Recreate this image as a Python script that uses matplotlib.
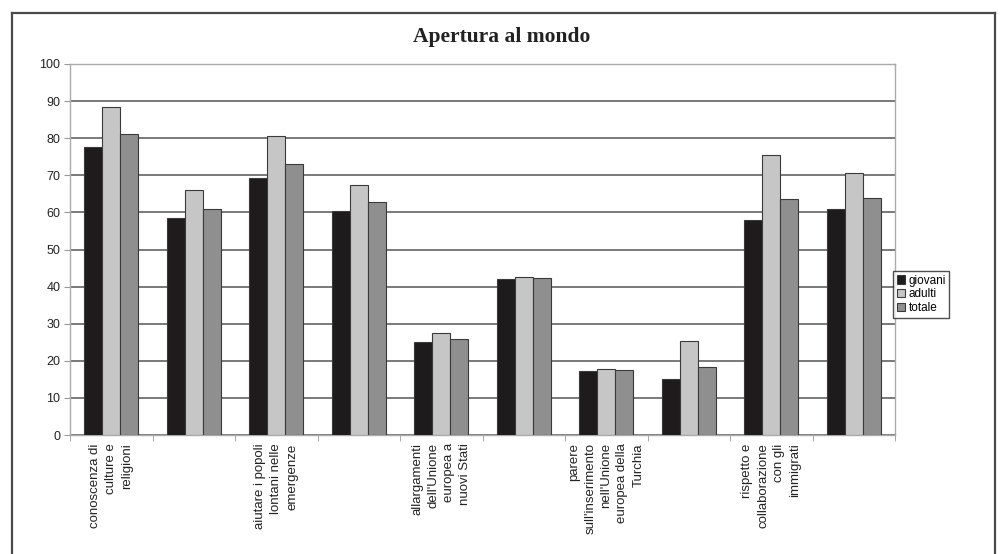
import matplotlib
matplotlib.use("Agg")
import matplotlib.pyplot as plt
import numpy as np
from matplotlib.lines import Line2D

title = "Apertura al mondo"
categories = [
    "conoscenza di\nculture e\nreligioni",
    "",
    "aiutare i popoli\nlontani nelle\nemergenze",
    "",
    "allargamenti\ndell'Unione\neuropea a\nnuovi Stati",
    "",
    "parere\nsull'inserimento\nnell'Unione\neuropea della\nTurchia",
    "",
    "rispetto e\ncollaborazione\ncon gli\nimmigrati",
    "",
]
series_names = ["giovani", "adulti", "totale"]
giovani = [77.6, 58.5, 69.2, 60.5, 25.0, 42.0, 17.2, 15.0, 58.0, 61.0]
adulti = [88.4, 66.0, 80.5, 67.5, 27.5, 42.5, 17.7, 25.3, 75.5, 70.5]
totale = [81.1, 61.0, 73.0, 62.8, 25.8, 42.2, 17.5, 18.2, 63.5, 64.0]
yticks = list(range(0, 101, 10))

colors = ["#1e1b1c", "#c6c6c6", "#8f8f8f"]

W, H = 1003, 554
fig = plt.figure(figsize=(W / 100, H / 100), dpi=100)
fig.patch.set_facecolor("white")

# outer frame (left, top, right)
fx0, fy0, fx1 = 12 / W, 1 - 13 / H, 995 / W
for xs, ys in [([fx0, fx0], [0, fy0]), ([fx0, fx1], [fy0, fy0]), ([fx1, fx1], [fy0, 0])]:
    fig.add_artist(Line2D(xs, ys, transform=fig.transFigure, color="#4a4a4a", lw=1.6))

left, right, bottom, top = 70 / W, 895 / W, 1 - 435 / H, 1 - 64 / H
ax = fig.add_axes([left, bottom, right - left, top - bottom])

x = np.arange(len(categories))
bw = 0.22
for i, (vals, name) in enumerate(zip([giovani, adulti, totale], series_names)):
    ax.bar(x + (i - 1) * bw, vals, width=bw, color=colors[i], edgecolor="#3a3a3a",
           linewidth=0.8, label=name, zorder=3)

ax.set_xlim(-0.5, len(categories) - 0.5)
ax.set_ylim(0, 100)
ax.set_yticks(yticks)
ax.set_yticklabels([str(v) for v in yticks], fontsize=9, family="Liberation Sans", color="#222222")
ax.yaxis.grid(True, color="#6e6e6e", lw=1.3, zorder=0)
ax.set_axisbelow(True)

ax.set_xticks(x)
ax.set_xticklabels(categories, rotation=90, fontsize=9.5, family="Liberation Sans",
                   va="top", ha="center", multialignment="right", color="#222222",
                   linespacing=1.45)
ax.tick_params(axis="x", which="major", length=0, pad=6)
ax.set_xticks(np.arange(-0.5, len(categories), 1), minor=True)
ax.tick_params(axis="x", which="minor", length=4, color="#999999")
ax.tick_params(axis="y", length=4, color="#999999", pad=3)

for s in ["left", "bottom", "top", "right"]:
    ax.spines[s].set_color("#aaaaaa")
    ax.spines[s].set_linewidth(1.0)

fig.text(0.5, 1 - 37 / H, title, ha="center", va="center", fontsize=15.5,
         fontweight="bold", family="Liberation Serif", color="#222222")

leg = ax.legend(loc="upper left", bbox_to_anchor=(893 / W, 1 - 271 / H),
                bbox_transform=fig.transFigure, borderaxespad=0, frameon=True,
                fancybox=False, edgecolor="#222222",
                prop={"family": "Liberation Sans", "size": 8.5},
                handlelength=0.7, handleheight=0.7, handletextpad=0.3,
                labelspacing=0.15, borderpad=0.3)
leg.get_frame().set_linewidth(1.0)

fig.savefig("out.png", dpi=100, facecolor="white")
